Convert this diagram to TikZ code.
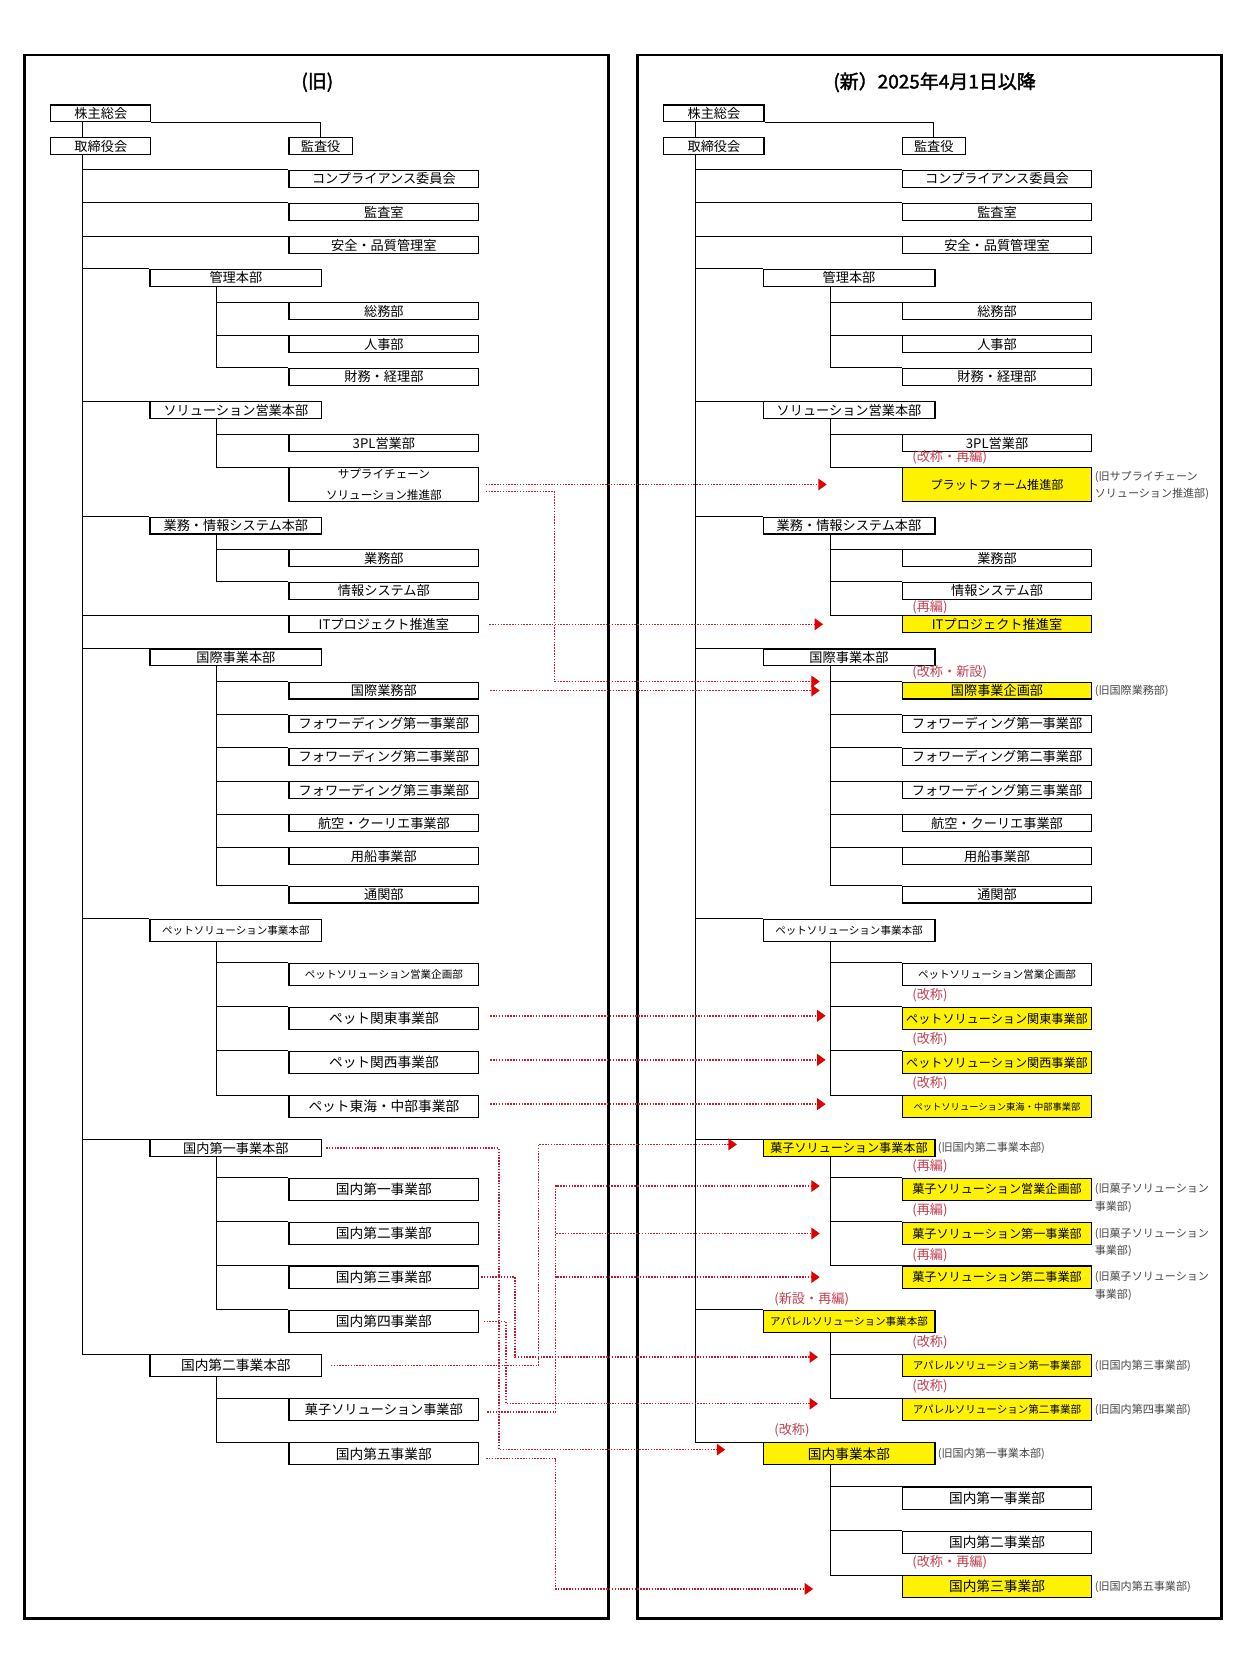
\documentclass[tikz,border=0pt]{standalone}
\usepackage{fontspec}
\setmainfont{Noto Sans CJK JP}[AutoFakeBold=2]
\usetikzlibrary{arrows.meta, backgrounds}
\definecolor{tagred}{RGB}{192,64,80}
\definecolor{dotred}{RGB}{190,30,45}
\definecolor{tipred}{RGB}{225,0,0}
\definecolor{notegray}{RGB}{70,70,70}
\newcommand\fsz[1]{\fontsize{#1}{#1}\selectfont}

\begin{document}
\begin{tikzpicture}[x=1pt, y=-1pt,
  box/.style={draw, line width=1.1pt, fill=white, anchor=north west, inner sep=0pt,
    minimum height=16, font=\fsz{12.5}},
  leaf/.style={box, minimum width=180},
  hq/.style={box, minimum width=163},
  tall/.style={minimum height=21, font=\fsz{13}},
  chg/.style={fill=yellow},
  tag/.style={anchor=west, inner sep=0pt, text=tagred, font=\fsz{12.5}},
  note/.style={anchor=west, inner sep=0pt, text=notegray, align=left,
    font=\fontsize{10.5}{17}\selectfont},
  link/.style={line width=0.9pt},
  move/.style={dotred, line width=1.4pt, dash pattern=on 1.4pt off 1.3pt,
    -{Triangle[length=8pt,width=11pt,color=tipred]}},
  movepart/.style={move, -}]
\useasboundingbox (0,0) rectangle (1176,1568);

% frames and headings
\draw[line width=2.4pt] (23.2,52.2) rectangle (577.3,1535.5);
\draw[line width=2.4pt] (604.9,52.2) rectangle (1158.6,1535.5);
\node[font=\fsz{18}\bfseries] (L-title) at (301,78) {(旧)};
\node[font=\fsz{18}\bfseries] (R-title) at (886.5,78) {(新）2025年4月1日以降};

% boxes shared by both charts
\foreach \p/\dx in {L/0, R/581.6} {
  \begin{scope}[xshift=\dx]
    \node[box, minimum width=95] (\p-kabu) at (47.6,99) {株主総会};
    \node[box, minimum width=95] (\p-tori) at (47.6,130) {取締役会};
    \node[box, minimum width=60] (\p-kansayaku) at (273.6,130) {監査役};
    \node[leaf] (\p-comp) at (273.6,161) {コンプライアンス委員会};
    \node[leaf] (\p-kansashitsu) at (273.6,192.5) {監査室};
    \node[leaf] (\p-anzen) at (273.6,224) {安全・品質管理室};
    \node[hq] (\p-kanri) at (141.7,255) {管理本部};
    \node[leaf] (\p-soumu) at (273.6,286.5) {総務部};
    \node[leaf] (\p-jinji) at (273.6,318) {人事部};
    \node[leaf] (\p-zaimu) at (273.6,349) {財務・経理部};
    \node[hq] (\p-solhq) at (141.7,380.5) {ソリューション営業本部};
    \node[leaf] (\p-3pl) at (273.6,412) {3PL営業部};
    \node[hq] (\p-gyoumuhq) at (141.7,490) {業務・情報システム本部};
    \node[leaf] (\p-gyoumu) at (273.6,521) {業務部};
    \node[leaf] (\p-joho) at (273.6,552) {情報システム部};
    \node[hq] (\p-kokusaihq) at (141.7,615) {国際事業本部};
    \node[leaf] (\p-fw1) at (273.6,678) {フォワーディング第一事業部};
    \node[leaf] (\p-fw2) at (273.6,709.4) {フォワーディング第二事業部};
    \node[leaf] (\p-fw3) at (273.6,741) {フォワーディング第三事業部};
    \node[leaf] (\p-koukuu) at (273.6,772.3) {航空・クーリエ事業部};
    \node[leaf] (\p-yousen) at (273.6,803.6) {用船事業部};
    \node[leaf] (\p-tsukan) at (273.6,840) {通関部};
    \node[hq, tall, font=\fsz{10}] (\p-pethq) at (141.7,871.6) {ペットソリューション事業本部};
    \node[leaf, tall, font=\fsz{10}] (\p-petkikaku) at (273.6,913.3) {ペットソリューション営業企画部};
  \end{scope}
}

% old chart
\node[leaf, minimum height=32, align=center, font=\fontsize{11}{20}\selectfont] (L-scm) at (273.6,443) {サプライチェーン\\ソリューション推進部};
\node[leaf] (L-it) at (273.6,583.6) {ITプロジェクト推進室};
\node[leaf] (L-kokusaigyomu) at (273.6,646.5) {国際業務部};
\node[leaf, tall] (L-petkanto) at (273.6,955) {ペット関東事業部};
\node[leaf, tall] (L-petkansai) at (273.6,996.8) {ペット関西事業部};
\node[leaf, tall] (L-pettokai) at (273.6,1038.8) {ペット東海・中部事業部};
\node[hq] (L-hq1) at (141.7,1080.5) {国内第一事業本部};
\foreach \n/\y/\t in {d1/1117/国内第一事業部, d2/1159/国内第二事業部, d3/1200.4/国内第三事業部, d4/1242.4/国内第四事業部}
  \node[leaf, tall] (L-\n) at (273.6,\y) {\t};
\node[hq, tall] (L-hq2) at (141.7,1284.4) {国内第二事業本部};
\node[leaf, tall, font=\fsz{12.5}] (L-kashi) at (273.6,1326.2) {菓子ソリューション事業部};
\node[leaf, tall] (L-d5) at (273.6,1368) {国内第五事業部};

% new chart
\node[leaf, chg, minimum height=32, font=\fsz{11.5}] (R-plat) at (855.2,443) {プラットフォーム推進部};
\node[leaf, chg] (R-it) at (855.2,583.6) {ITプロジェクト推進室};
\node[leaf, chg] (R-kikaku) at (855.2,646.5) {国際事業企画部};
\node[leaf, chg, tall, font=\fsz{11.5}] (R-petkanto) at (855.2,955) {ペットソリューション関東事業部};
\node[leaf, chg, tall, font=\fsz{11.5}] (R-petkansai) at (855.2,996.8) {ペットソリューション関西事業部};
\node[leaf, chg, tall, font=\fsz{8.8}] (R-pettokai) at (855.2,1038.8) {ペットソリューション東海・中部事業部};
\node[hq, chg, font=\fsz{11.5}] (R-kashihq) at (723.3,1080.5) {菓子ソリューション事業本部};
\node[leaf, chg, tall, font=\fsz{11.5}] (R-kashikikaku) at (855.2,1117) {菓子ソリューション営業企画部};
\node[leaf, chg, tall, font=\fsz{11.5}] (R-kashi1) at (855.2,1159) {菓子ソリューション第一事業部};
\node[leaf, chg, tall, font=\fsz{11.5}] (R-kashi2) at (855.2,1200.4) {菓子ソリューション第二事業部};
\node[hq, chg, tall, font=\fsz{10}] (R-apparelhq) at (723.3,1242.4) {アパレルソリューション事業本部};
\node[leaf, chg, tall, font=\fsz{10}] (R-app1) at (855.2,1284.4) {アパレルソリューション第一事業部};
\node[leaf, chg, tall, font=\fsz{10}] (R-app2) at (855.2,1326.2) {アパレルソリューション第二事業部};
\node[hq, chg, tall] (R-domhq) at (723.3,1368) {国内事業本部};
\node[leaf, tall] (R-d1) at (855.2,1410) {国内第一事業部};
\node[leaf, tall] (R-d2) at (855.2,1452) {国内第二事業部};
\node[leaf, chg, tall] (R-d3) at (855.2,1494) {国内第三事業部};

% tree lines
\begin{scope}[on background layer]
  \foreach \p in {L,R} {
    \draw[link] (\p-kabu.south east) -| (\p-kansayaku.north);
    \foreach \c in {comp,kansashitsu,anzen,kanri,solhq,gyoumuhq,kokusaihq,pethq}
      \draw[link] ([xshift=30.4]\p-kabu.south west) |- (\p-\c.north west);
    \foreach \h/\c in {kanri/soumu,kanri/jinji,kanri/zaimu,solhq/3pl,gyoumuhq/gyoumu,gyoumuhq/joho,
        kokusaihq/fw1,kokusaihq/fw2,kokusaihq/fw3,kokusaihq/koukuu,kokusaihq/yousen,kokusaihq/tsukan,
        pethq/petkikaku,pethq/petkanto,pethq/petkansai,pethq/pettokai}
      \draw[link] ([xshift=64.1]\p-\h.south west) |- (\p-\c.north west);
  }
  \foreach \c in {it,hq1,hq2}
    \draw[link] ([xshift=30.4]L-kabu.south west) |- (L-\c.north west);
  \foreach \h/\c in {solhq/scm,kokusaihq/kokusaigyomu,hq1/d1,hq1/d2,hq1/d3,hq1/d4,hq2/kashi,hq2/d5}
    \draw[link] ([xshift=64.1]L-\h.south west) |- (L-\c.north west);
  \foreach \c in {kashihq,apparelhq,domhq}
    \draw[link] ([xshift=30.4]R-kabu.south west) |- (R-\c.north west);
  \foreach \h/\c in {solhq/plat,gyoumuhq/it,kokusaihq/kikaku,kashihq/kashikikaku,kashihq/kashi1,kashihq/kashi2,
      apparelhq/app1,apparelhq/app2,domhq/d1,domhq/d2,domhq/d3}
    \draw[link] ([xshift=64.1]R-\h.south west) |- (R-\c.north west);
\end{scope}

% change labels
\foreach \n/\dy/\t in {plat/9/{(改称・再編)}, it/8/{(再編)}, kikaku/9/{(改称・新設)},
    petkanto/11/{(改称)}, petkansai/11/{(改称)}, pettokai/11/{(改称)},
    kashikikaku/11/{(再編)}, kashi1/11/{(再編)}, kashi2/10/{(再編)},
    app1/11/{(改称)}, app2/11/{(改称)}, d3/12/{(改称・再編)}}
  \node[tag] (R-\n-tag) at ([xshift=10,yshift=\dy]R-\n.north west) {\t};
\node[tag] (R-apparelhq-tag) at ([xshift=11,yshift=10]R-apparelhq.north west) {(新設・再編)};
\node[tag] (R-domhq-tag) at ([xshift=11,yshift=11]R-domhq.north west) {(改称)};

% former names
\node[note] (R-plat-note) at ([xshift=2,yshift=-1]R-plat.east) {(旧サプライチェーン\\ソリューション推進部)};
\node[note] (R-kikaku-note) at ([xshift=2]R-kikaku.east) {(旧国際業務部)};
\node[note] (R-kashihq-note) at ([xshift=2]R-kashihq.east) {(旧国内第二事業本部)};
\foreach \n in {kashikikaku,kashi1,kashi2}
  \node[note] (R-\n-note) at ([xshift=2,yshift=-8.5]R-\n.east) {(旧菓子ソリューション\\事業部)};
\node[note] (R-app1-note) at ([xshift=2]R-app1.east) {(旧国内第三事業部)};
\node[note] (R-app2-note) at ([xshift=2]R-app2.east) {(旧国内第四事業部)};
\node[note] (R-domhq-note) at ([xshift=2]R-domhq.east) {(旧国内第一事業本部)};
\node[note] (R-d3-note) at ([xshift=2]R-d3.east) {(旧国内第五事業部)};

% moves from old to new
\draw[move] ([xshift=6]L-scm.east) -- ([xshift=-71]R-plat.west);
\draw[move] ([xshift=6,yshift=-6.7]L-scm.east) -- ++(65.5,0) |- ([xshift=-77.6,yshift=8.6]R-kikaku.west);
\draw[move] ([xshift=9.4]L-it.east) -- ([xshift=-74.4]R-it.west);
\draw[move] ([xshift=10.4]L-kokusaigyomu.east) -- ([xshift=-77.6]R-kikaku.west);
\foreach \n in {petkanto,petkansai,pettokai}
  \draw[move] ([xshift=10.4,yshift=2.5]L-\n.east) -- ([xshift=-72,yshift=2.5]R-\n.west);
\draw[move] ([xshift=3.5]L-hq1.east) -- ++(164,0) |- ([xshift=-35.4,yshift=4]R-domhq.west);
\draw[move] ([xshift=8]L-hq2.east) -- ++(197,0) |- ([xshift=-24.3,yshift=3.5]R-kashihq.west);
\draw[movepart] ([xshift=7.4,yshift=-2.2]L-kashi.east) -- ++(65,0) coordinate (kashi-jct);
\foreach \n/\dy in {kashikikaku/3, kashi1/0, kashi2/0}
  \draw[move] (kashi-jct) |- ([xshift=-77.6,yshift=\dy]R-\n.west);
\draw[move] ([xshift=1.6]L-d3.east) -- ++(32.3,0) |- ([xshift=-79.3,yshift=8.2]R-app1.west);
\draw[move] ([xshift=4.2]L-d4.east) -- ++(21.2,0) |- ([xshift=-79.3,yshift=5.7]R-app2.west);
\draw[move] ([xshift=6.4,yshift=-4.5]L-d5.east) -- ++(66,0) |- ([xshift=-83.9,yshift=-2.2]R-d3.west);
\end{tikzpicture}
\end{document}
